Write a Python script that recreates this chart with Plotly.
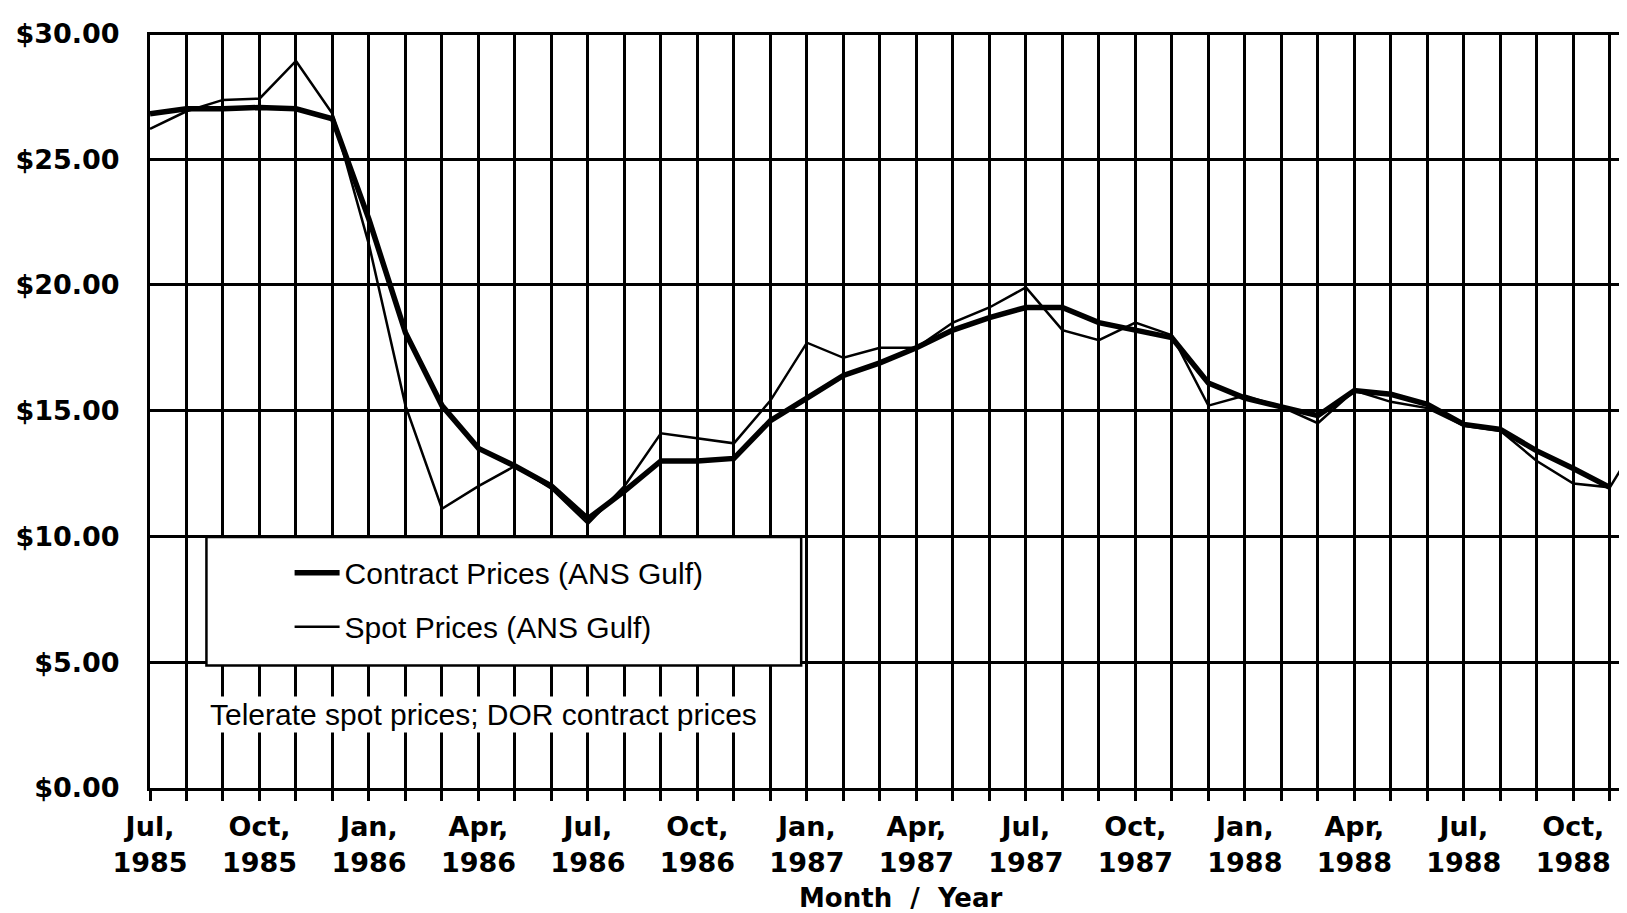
import pandas as pd
import plotly.graph_objects as go

# monthly observations, Jul 1985 .. Dec 1988
months = pd.date_range("1985-07-01", "1988-12-01", freq="MS")

contract_prices = [
    26.8, 27.0, 27.0, 27.05, 27.0, 26.6,                       # Jul-Dec 1985
    22.6, 18.1, 15.2, 13.5, 12.8, 12.0, 10.7, 11.8, 13.0, 13.0, 13.1, 14.6,   # 1986
    15.5, 16.4, 16.9, 17.5, 18.2, 18.7, 19.1, 19.1, 18.5, 18.2, 17.9, 16.1,   # 1987
    15.5, 15.15, 14.8, 15.8, 15.65, 15.25, 14.45, 14.25, 13.4, 12.7, 11.95,   # Jan-Nov 1988
]
spot_prices = [
    26.2, 26.9, 27.35, 27.4, 28.9, 26.8,
    21.6, 15.2, 11.1, 12.0, 12.8, 11.9, 10.5, 12.0, 14.1, 13.9, 13.7, 15.4,
    17.7, 17.1, 17.5, 17.5, 18.5, 19.1, 19.9, 18.2, 17.8, 18.5, 18.0, 15.2,
    15.6, 15.15, 14.5, 15.8, 15.35, 15.1, 14.4, 14.2, 13.0, 12.1, 11.95, 14.3,
]
y_ticks = [0, 5, 10, 15, 20, 25, 30]

month_idx = list(range(len(months)))
tick_text = [f"{m:%b},<br>{m:%Y}" if m.month in (1, 4, 7, 10) else "" for m in months]

BOLD = dict(family="DejaVu Sans", size=27, color="black", weight="bold")
PLAIN = dict(family="Liberation Sans", size=30, color="black")

fig = go.Figure()
fig.add_trace(go.Scatter(x=month_idx[:len(contract_prices)], y=contract_prices,
                         mode="lines", name="Contract Prices (ANS Gulf)",
                         legendgroup="c", line=dict(color="black", width=5.5)))
fig.add_trace(go.Scatter(x=month_idx[:len(spot_prices)], y=spot_prices,
                         mode="lines", name="Spot Prices (ANS Gulf)",
                         legendgroup="s", line=dict(color="black", width=2.5)))

# legend frame (white box hiding the grid)
fig.add_shape(type="rect", xref="paper", yref="paper",
              x0=0.038, x1=0.4385, y0=0.162, y1=0.332,
              fillcolor="white", line=dict(color="black", width=2.5), layer="above")

fig.add_annotation(text="Telerate spot prices; DOR contract prices",
                   xref="paper", yref="paper", x=0.2245, y=0.0975,
                   xanchor="center", yanchor="middle",
                   showarrow=False, font=PLAIN, bgcolor="white", borderpad=1)
fig.add_annotation(text="Month  /  Year", xref="paper", yref="paper",
                   x=0.506, y=-0.145, xanchor="center", yanchor="middle",
                   showarrow=False, font=dict(BOLD, size=26))

fig.update_xaxes(range=[0, 40.69], tickmode="array", tickvals=month_idx,
                 ticktext=tick_text, tickangle=0, ticks="outside", ticklen=10,
                 tickwidth=3, tickcolor="black", tickfont=BOLD,
                 showgrid=True, gridcolor="black", gridwidth=3,
                 showline=True, linecolor="black", linewidth=3,
                 zeroline=False, ticklabelstandoff=3, automargin=False)
fig.update_yaxes(range=[0, 30.05], tickmode="array", tickvals=y_ticks,
                 ticktext=[f"${v:.2f}" for v in y_ticks], tickfont=BOLD,
                 showgrid=True, gridcolor="black", gridwidth=3,
                 showline=True, linecolor="black", linewidth=3,
                 zeroline=False, ticklabelstandoff=22, automargin=False)

fig.update_layout(
    width=1627, height=913,
    margin=dict(l=142, r=0, t=24, b=133),
    paper_bgcolor="white", plot_bgcolor="white",
    showlegend=True,
    legend=dict(x=0.094, y=0.249, xanchor="left", yanchor="middle",
                bgcolor="rgba(0,0,0,0)", borderwidth=0, font=PLAIN,
                itemwidth=45, tracegroupgap=12),
)

fig.write_html("out.html")
